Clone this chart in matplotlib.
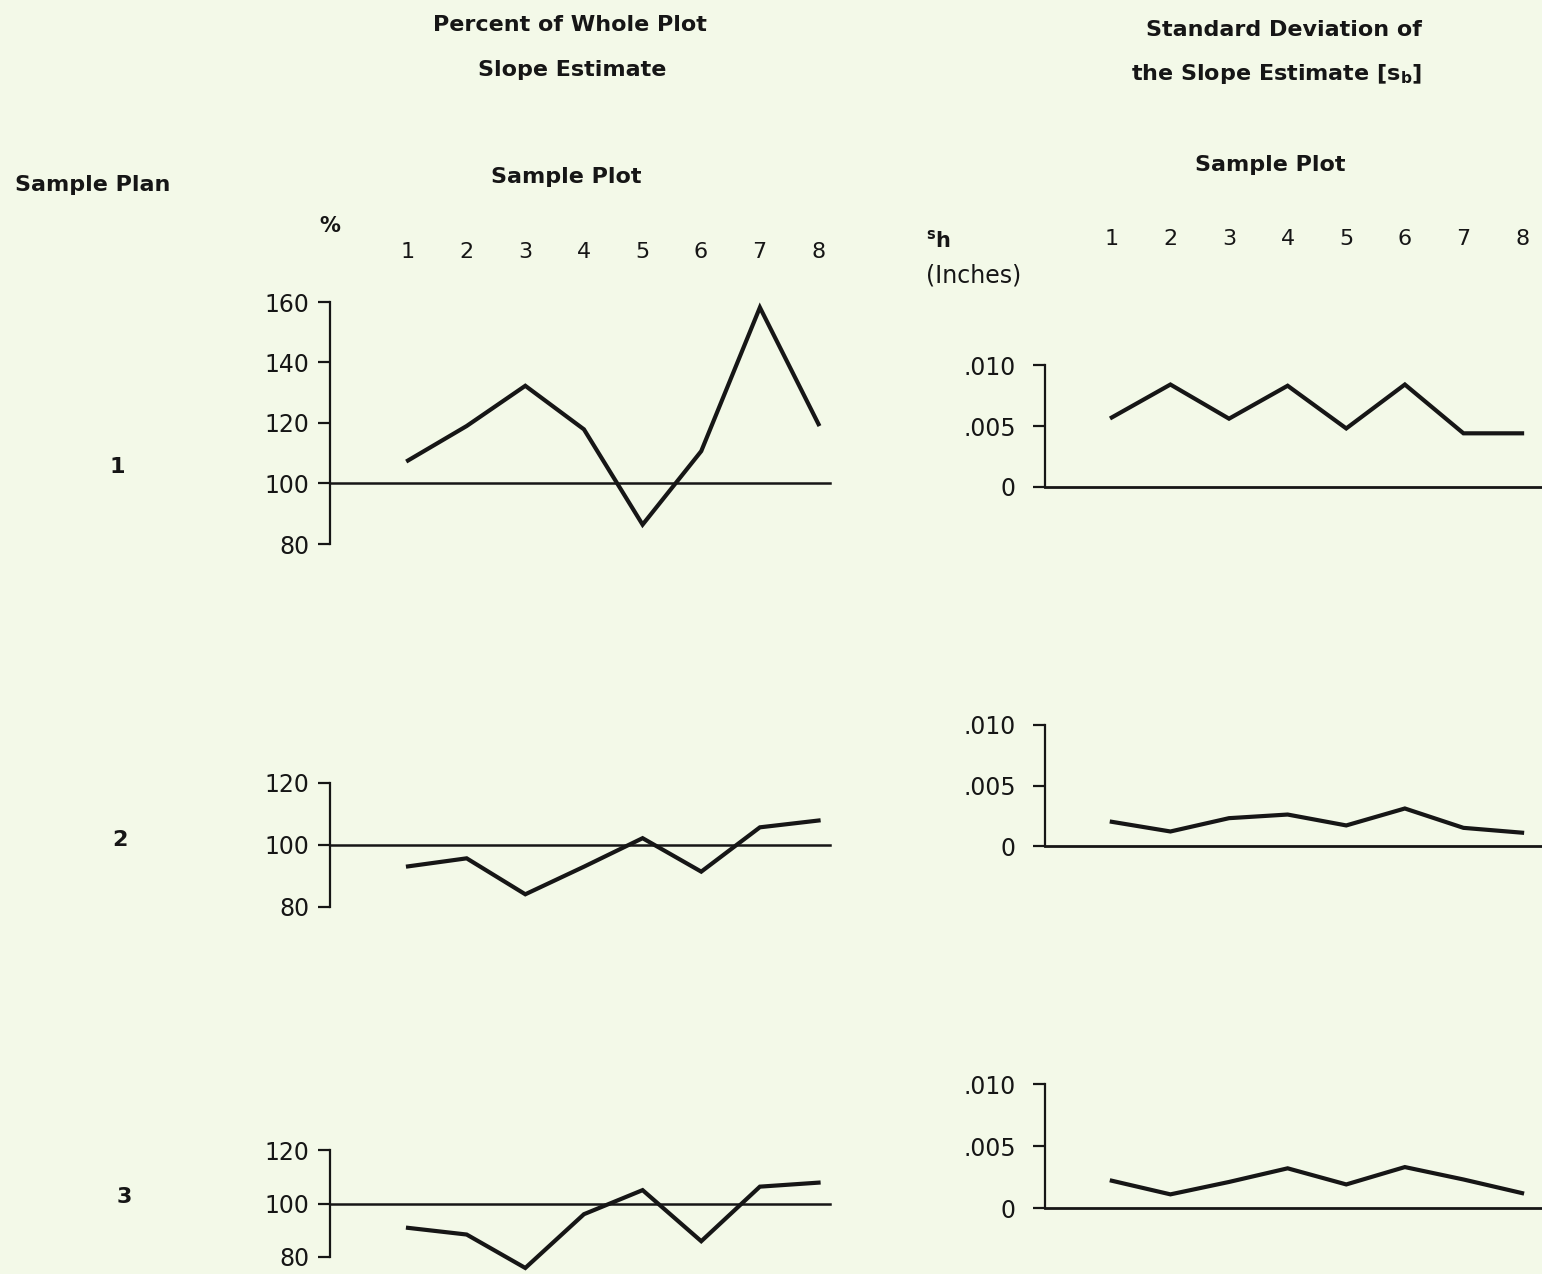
import numpy as np
import matplotlib.pyplot as plt
from matplotlib.ticker import FixedLocator, FixedFormatter

# ----------------------------------------
# Data
# ----------------------------------------
sample_plots = [1, 2, 3, 4, 5, 6, 7, 8]
plan_labels = ["1", "2", "3"]

# percent of whole-plot slope estimate, per sample plan
pct_plan1 = [107.6, 119.0, 132.3, 117.9, 86.4, 110.7, 158.2, 119.6]
pct_plan2 = [93.1, 95.7, 84.1, 93.0, 102.2, 91.4, 105.7, 107.9]
pct_plan3 = [90.9, 88.4, 75.9, 96.0, 105.0, 85.9, 106.3, 107.8]

# standard deviation of the slope estimate (inches), per sample plan
sd_plan1 = [0.0057, 0.0084, 0.0056, 0.0083, 0.0048, 0.0084, 0.0044, 0.0044]
sd_plan2 = [0.0020, 0.0012, 0.0023, 0.0026, 0.0017, 0.0031, 0.0015, 0.0011]
sd_plan3 = [0.0022, 0.0011, 0.0021, 0.0032, 0.0019, 0.0033, 0.0023, 0.0012]

pct_ticks_big = [80, 100, 120, 140, 160]
pct_ticks_small = [80, 100, 120]
sd_ticks = [0, 0.005, 0.010]
sd_tick_labels = ["0", ".005", ".010"]
ref_level = 100

# ----------------------------------------
# Figure setup
# ----------------------------------------
W, H = 1542, 1274
bg = "#f3f9e8"
ink = "#161616"
plt.rcParams["font.family"] = ["DejaVu Sans"]

fig = plt.figure(figsize=(W / 100, H / 100), dpi=100, facecolor=bg)


def add_px_axes(left, right, top, bottom):
    return fig.add_axes([left / W, 1 - bottom / H, (right - left) / W, (bottom - top) / H])


def style_axes(ax):
    ax.set_facecolor("none")
    ax.patch.set_alpha(0)
    for side in ("top", "right"):
        ax.spines[side].set_visible(False)
    ax.spines["left"].set_linewidth(1.6)
    ax.spines["left"].set_color(ink)
    ax.tick_params(axis="y", direction="out", length=9, width=1.6,
                   labelsize=17, colors=ink)
    ax.set_xticks([])


def pct_panel(top, bottom, values, ticks):
    ax = add_px_axes(330, 842, top, bottom)
    style_axes(ax)
    ax.spines["bottom"].set_visible(False)
    ax.set_xlim(-0.33, 8.4)
    ax.set_ylim(ticks[0], ticks[-1])
    ax.spines["left"].set_bounds(ticks[0], ticks[-1])
    ax.set_yticks(ticks)
    ax.tick_params(axis="y", pad=6)
    ax.axhline(ref_level, xmin=0, xmax=0.977, color=ink, lw=1.8)
    ax.plot(sample_plots, values, color=ink, lw=3.0, clip_on=False,
            solid_joinstyle="miter")
    return ax


def sd_panel(top, bottom, values):
    ax = add_px_axes(1045, 1542, top, bottom)
    style_axes(ax)
    ax.spines["bottom"].set_linewidth(2.0)
    ax.spines["bottom"].set_color(ink)
    ax.set_xlim(-0.14, 8.34)
    ax.set_ylim(sd_ticks[0], sd_ticks[-1])
    ax.spines["left"].set_bounds(sd_ticks[0], sd_ticks[-1])
    ax.yaxis.set_major_locator(FixedLocator(sd_ticks))
    ax.yaxis.set_major_formatter(FixedFormatter(sd_tick_labels))
    ax.tick_params(axis="y", pad=12)
    ax.plot(sample_plots, values, color=ink, lw=3.0, clip_on=False,
            solid_joinstyle="miter")
    return ax


# ----------------------------------------
# Panels
# ----------------------------------------
pct_panel(302, 544, pct_plan1, pct_ticks_big)
pct_panel(783, 907, pct_plan2, pct_ticks_small)
pct_panel(1150, 1257, pct_plan3, pct_ticks_small)

sd_panel(365, 487, sd_plan1)
sd_panel(725, 846, sd_plan2)
sd_panel(1084, 1208, sd_plan3)

# ----------------------------------------
# Headings and labels
# ----------------------------------------
def put(x, y, s, size=16, ha="center", weight="bold"):
    fig.text(x / W, 1 - y / H, s, ha=ha, va="center", fontsize=size,
             color=ink, fontweight=weight)


put(570, 25, "Percent of Whole Plot")
put(572, 70, "Slope Estimate")
put(1284, 30, "Standard Deviation of")
put(1277, 74, r"the Slope Estimate [s$_\mathregular{b}$]")

put(566, 177, "Sample Plot")
put(1270, 165, "Sample Plot")
put(15, 185, "Sample Plan", ha="left")

put(330, 226, "%", size=15)
put(926, 240, r"$\mathregular{^s}$h", ha="left", size=15)
put(926, 276, "(Inches)", ha="left", size=17, weight="normal")

for k in sample_plots:
    put(408 + (k - 1) * 58.6, 252, str(k), size=16, weight="normal")
    put(1112 + (k - 1) * 58.6, 239, str(k), size=16, weight="normal")

for lab, (x, y) in zip(plan_labels, [(117, 467), (120, 840), (124, 1197)]):
    put(x, y, lab, size=16)

fig.savefig("out.png", dpi=100, facecolor=bg)
